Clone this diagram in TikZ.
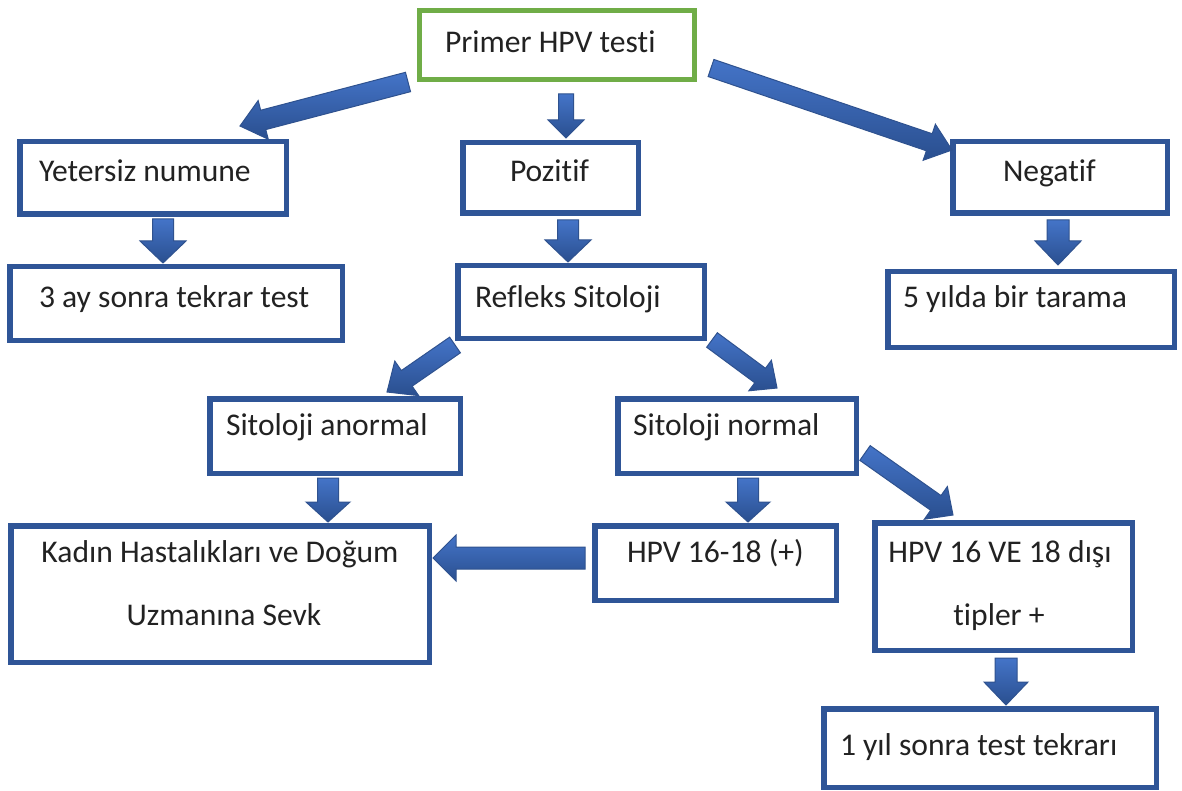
\documentclass[tikz,border=0pt]{standalone}
\usepackage{fontspec}
\setmainfont{Carlito}[Ligatures={NoCommon}]
\usetikzlibrary{calc}
\definecolor{boxblue}{HTML}{2F5597}
\definecolor{boxgreen}{HTML}{70AD47}
\definecolor{arrlight}{HTML}{4474C8}
\definecolor{arrdark}{HTML}{2A4F8F}
\definecolor{arredge}{HTML}{2F528F}
\definecolor{txt}{HTML}{222222}
\tikzset{
  box/.style={draw=boxblue, line width=5.5pt, fill=white, inner sep=0pt, outer sep=0pt},
  greenbox/.style={box, draw=boxgreen, line width=5pt},
  lbl/.style={inner sep=0pt, outer sep=0pt, anchor=base west, text=txt,
     font=\fontsize{31.6}{38}\selectfont},
  clbl/.style={lbl, anchor=base},
  arrfill/.style={draw=arredge, line width=1pt, top color=arrlight, bottom color=arrdark, line join=miter}
}
% tail, tip, shaft half width, head half width, head length
\newcommand\blockarr[5]{%
  \path[arrfill]
    ($(#1)!#3pt!90:(#2)$) --
    ($(#2)!#5pt!(#1)!#3pt!-90:(#1)$) --
    ($(#2)!#5pt!(#1)!#4pt!-90:(#1)$) --
    (#2) --
    ($(#2)!#5pt!(#1)!#4pt!90:(#1)$) --
    ($(#2)!#5pt!(#1)!#3pt!90:(#1)$) --
    ($(#1)!#3pt!-90:(#2)$) -- cycle;
}
\begin{document}
\begin{tikzpicture}[x=1pt,y=-1pt]
\useasboundingbox (0,0) rectangle (1182,791);
\fill[white] (0,0) rectangle (1182,791);

% boxes (outer extents minus line width)
\node[greenbox, minimum width=275pt, minimum height=69pt] (primer) at (557,45) {};
\node[box, minimum width=266.5pt, minimum height=72.5pt] (yet) at (153,178) {};
\node[box, minimum width=175.5pt, minimum height=70.5pt] (poz) at (550.5,178) {};
\node[box, minimum width=214.5pt, minimum height=71.5pt] (neg) at (1060,177.5) {};
\node[box, minimum width=332.5pt, minimum height=73.5pt] (ay3) at (176,303.5) {};
\node[box, minimum width=246.5pt, minimum height=72.5pt] (ref) at (581,302) {};
\node[box, minimum width=286.5pt, minimum height=75.5pt] (yil5) at (1031,309.5) {};
\node[box, minimum width=250.5pt, minimum height=74.5pt] (anor) at (335,436) {};
\node[box, minimum width=238.5pt, minimum height=74.5pt] (norm) at (737,436) {};
\node[box, minimum width=418.5pt, minimum height=136.5pt] (kadin) at (220,594) {};
\node[box, minimum width=241.5pt, minimum height=74.5pt] (h1618) at (715.5,563) {};
\node[box, minimum width=257.5pt, minimum height=127.5pt] (hdisi) at (1003.5,586.5) {};
\node[box, minimum width=332.5pt, minimum height=78.5pt] (yil1) at (990,748) {};

% texts
\node[lbl] (tprimer) at (445,53) {Primer HPV testi};
\node[lbl] (tyet) at (39,182) {Yetersiz numune};
\node[lbl] (tpoz) at (510,182) {Pozitif};
\node[lbl] (tneg) at (1003,182) {Negatif};
\node[lbl] (tay3) at (39,308) {3 ay sonra tekrar test};
\node[lbl] (tref) at (475,307) {Refleks Sitoloji};
\node[lbl] (tyil5) at (903,307) {5 yılda bir tarama};
\node[lbl] (tanor) at (226,435) {Sitoloji anormal};
\node[lbl] (tnorm) at (633,435) {Sitoloji normal};
\node[clbl] (tkadinA) at (220,562) {Kadın Hastalıkları ve Doğum};
\node[clbl] (tkadinB) at (224,625) {Uzmanına Sevk};
\node[lbl] (th1618) at (627,562) {HPV 16-18 (+)};
\node[clbl] (thdisiA) at (1000,562) {HPV 16 VE 18 dışı};
\node[clbl] (thdisiB) at (999,625) {tipler +};
\node[lbl] (tyil1) at (840,755) {1 yıl sonra test tekrarı};

% arrow end points
\coordinate (a1t) at (408,82);   \coordinate (a1h) at (240,126);
\coordinate (a2t) at (566,94);   \coordinate (a2h) at (566,138);
\coordinate (a3t) at (711,68);   \coordinate (a3h) at (952,150);
\coordinate (a4t) at (163,219);  \coordinate (a4h) at (163,263);
\coordinate (a5t) at (568,220);  \coordinate (a5h) at (568,262);
\coordinate (a6t) at (1058,220); \coordinate (a6h) at (1058,265);
\coordinate (a7t) at (455,345);  \coordinate (a7h) at (387,392);
\coordinate (a8t) at (712,340);  \coordinate (a8h) at (777,388);
\coordinate (a9t) at (328,478);  \coordinate (a9h) at (328,522);
\coordinate (a10t) at (748,478); \coordinate (a10h) at (748,522);
\coordinate (a11t) at (865,453); \coordinate (a11h) at (953,515);
\coordinate (a12t) at (585,558); \coordinate (a12h) at (433,558);
\coordinate (a13t) at (1006,658);\coordinate (a13h) at (1006,705);

\blockarr{a1t}{a1h}{10}{20}{24}
\blockarr{a2t}{a2h}{7.5}{18}{18}
\blockarr{a3t}{a3h}{9}{19}{24}
\blockarr{a4t}{a4h}{10.5}{23}{22}
\blockarr{a5t}{a5h}{10.5}{23}{22}
\blockarr{a6t}{a6h}{11}{23}{24}
\blockarr{a7t}{a7h}{9.5}{21}{24}
\blockarr{a8t}{a8h}{9}{19}{21}
\blockarr{a9t}{a9h}{10.5}{22}{20}
\blockarr{a10t}{a10h}{10.5}{22}{20}
\blockarr{a11t}{a11h}{9}{20}{21}
\blockarr{a12t}{a12h}{11}{23}{23}
\blockarr{a13t}{a13h}{11}{22}{23}
\end{tikzpicture}
\end{document}
